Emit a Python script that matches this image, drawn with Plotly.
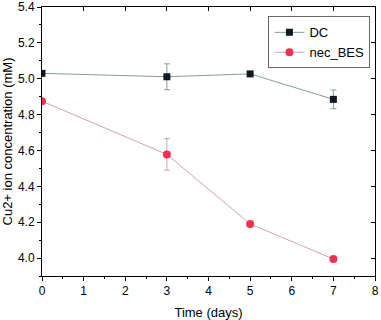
import plotly.graph_objects as go

days = [0, 3, 5, 7]
dc = [5.03, 5.011, 5.027, 4.885]
dc_err = [0.0, 0.072, 0.0, 0.052]
bes = [4.875, 4.578, 4.19, 3.995]
bes_err = [0.0, 0.088, 0.0, 0.0]

fig = go.Figure()

fig.add_trace(go.Scatter(
    x=days, y=dc, name='DC', mode='lines+markers',
    line=dict(color='#8c9a9c', width=1),
    marker=dict(symbol='square', size=7, color='#101820'),
    error_y=dict(type='data', array=dc_err, color='#8c9a9c', thickness=1, width=3),
))
fig.add_trace(go.Scatter(
    x=days, y=bes, name='nec_BES', mode='lines+markers',
    line=dict(color='#c9a3bd', width=1),
    marker=dict(symbol='circle', size=8, color='#f2304f'),
    error_y=dict(type='data', array=bes_err, color='#c9a3bd', thickness=1, width=3),
))
# invisible copy so the top/right mirror axes get drawn
fig.add_trace(go.Scatter(
    x=days, y=dc, xaxis='x2', yaxis='y2', mode='markers',
    marker=dict(opacity=0), showlegend=False, hoverinfo='skip',
))

axis_common = dict(
    showline=True, linecolor='black', linewidth=1, mirror=True,
    ticks='outside', ticklen=4, tickcolor='black',
    showgrid=False, zeroline=False, automargin=False,
    tickfont=dict(size=12, color='black'),
)

# inward ticks on the top and right frame edges
mirror_common = dict(
    showline=False, ticks='inside', ticklen=4, tickcolor='black',
    showticklabels=False, showgrid=False, zeroline=False, automargin=False,
)

fig.update_layout(
    width=381, height=320,
    margin=dict(l=42, r=6, t=7, b=44, autoexpand=False),
    paper_bgcolor='white', plot_bgcolor='white',
    font=dict(family='Liberation Sans, Arial', color='black'),
    xaxis=dict(range=[0, 8], dtick=1,
               minor=dict(ticks='outside', ticklen=2, dtick=0.5, tickcolor='black'),
               title=dict(text='Time (days)', font=dict(size=13)),
               **axis_common),
    yaxis=dict(range=[3.9, 5.4], dtick=0.2, tick0=4.0, tickformat='.1f',
               minor=dict(ticks='outside', ticklen=2, dtick=0.1, tickcolor='black'),
               title=dict(text='Cu2+ ion concentration (mM)', font=dict(size=13)),
               **axis_common),
    xaxis2=dict(overlaying='x', side='top', range=[0, 8], dtick=1, **mirror_common),
    yaxis2=dict(overlaying='y', side='right', range=[3.9, 5.4], dtick=0.2, tick0=4.0,
                **mirror_common),
    legend=dict(x=0.68, y=0.965, xanchor='left', yanchor='top',
                bgcolor='white', bordercolor='#666', borderwidth=1,
                font=dict(size=13), tracegroupgap=0, itemwidth=30),
)

# page has a default body margin, remove it so the figure fills the window
fig.write_html("out.html", config={'displayModeBar': False},
               post_script="document.body.style.margin='0';")
